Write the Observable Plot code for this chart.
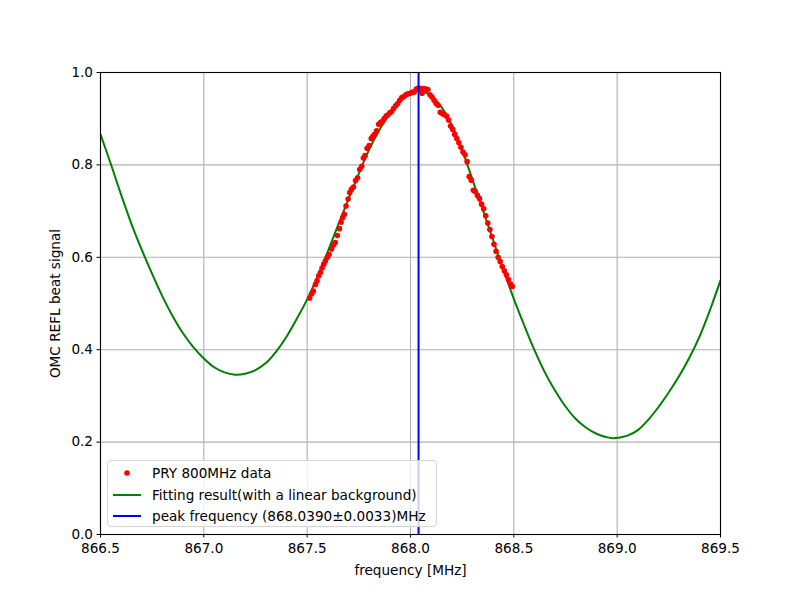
<!DOCTYPE html>
<html>
<head>
<meta charset="utf-8">
<script src="https://cdn.jsdelivr.net/npm/d3@7"></script>
<script src="https://cdn.jsdelivr.net/npm/@observablehq/plot@0.6"></script>
<style>
  html, body { margin: 0; padding: 0; background: #fff; }
  #wrap { position: relative; width: 800px; height: 600px; font-family: "DejaVu Sans", sans-serif; }
  #legend { position: absolute; left: 107px; top: 460px; width: 330px; height: 67px; box-sizing: border-box;
    border: 1px solid #d5d5d5; border-radius: 4px; background: rgba(255,255,255,0.8); font-size: 13.6px; color: #000; }
  .item { position: absolute; left: 0; height: 20px; display: flex; align-items: center; }
  .item svg { width: 44px; height: 20px; }
  .item span { white-space: nowrap; }
</style>
</head>
<body>
<div id="wrap">
  <div id="chart"></div>
  <div id="legend"></div>
</div>
<script>
// Fit curve
const fitFreq = [866.50, 866.55, 866.60, 866.65, 866.70, 866.75, 866.80, 866.85, 866.90, 866.95, 867.00, 867.05, 867.10, 867.15, 867.20, 867.25, 867.30, 867.35, 867.40, 867.45, 867.50, 867.55, 867.60, 867.65, 867.70, 867.75, 867.80, 867.85, 867.90, 867.95, 868.00, 868.04, 868.10, 868.15, 868.20, 868.25, 868.30, 868.35, 868.40, 868.45, 868.50, 868.55, 868.60, 868.65, 868.70, 868.75, 868.80, 868.85, 868.90, 868.95, 868.98, 869.05, 869.10, 869.15, 869.20, 869.25, 869.30, 869.35, 869.40, 869.45, 869.50];
const fitValue = [0.866, 0.802, 0.735, 0.672, 0.616, 0.564, 0.515, 0.472, 0.435, 0.405, 0.381, 0.362, 0.351, 0.346, 0.348, 0.356, 0.371, 0.396, 0.428, 0.467, 0.509, 0.558, 0.613, 0.670, 0.726, 0.781, 0.833, 0.876, 0.911, 0.937, 0.954, 0.960, 0.950, 0.925, 0.886, 0.832, 0.768, 0.703, 0.637, 0.572, 0.510, 0.453, 0.399, 0.351, 0.311, 0.277, 0.250, 0.231, 0.218, 0.2105, 0.2085, 0.214, 0.226, 0.248, 0.276, 0.308, 0.343, 0.383, 0.430, 0.487, 0.550];

const dataFreq = [867.512, 867.522, 867.530, 867.540, 867.548, 867.556, 867.564, 867.572, 867.580, 867.588, 867.598, 867.606, 867.618, 867.628, 867.636, 867.646, 867.656, 867.664, 867.672, 867.680, 867.688, 867.698, 867.706, 867.714, 867.724, 867.734, 867.744, 867.754, 867.764, 867.772, 867.780, 867.790, 867.800, 867.810, 867.818, 867.826, 867.836, 867.846, 867.856, 867.864, 867.872, 867.882, 867.890, 867.900, 867.908, 867.918, 867.928, 867.938, 867.948, 867.958, 867.968, 867.978, 867.988, 867.998, 868.008, 868.018, 868.028, 868.036, 868.046, 868.056, 868.064, 868.074, 868.084, 868.094, 868.104, 868.114, 868.124, 868.134, 868.144, 868.154, 868.164, 868.174, 868.184, 868.194, 868.204, 868.214, 868.224, 868.234, 868.244, 868.254, 868.264, 868.274, 868.284, 868.294, 868.304, 868.314, 868.324, 868.334, 868.344, 868.354, 868.364, 868.374, 868.384, 868.394, 868.404, 868.414, 868.424, 868.434, 868.444, 868.454, 868.464, 868.474, 868.484, 868.492];
const dataValue = [0.512, 0.521, 0.527, 0.541, 0.549, 0.560, 0.567, 0.577, 0.585, 0.592, 0.600, 0.606, 0.618, 0.627, 0.632, 0.647, 0.662, 0.676, 0.686, 0.693, 0.711, 0.726, 0.740, 0.747, 0.752, 0.766, 0.772, 0.790, 0.797, 0.815, 0.820, 0.836, 0.842, 0.857, 0.862, 0.866, 0.874, 0.888, 0.892, 0.894, 0.900, 0.906, 0.908, 0.913, 0.915, 0.922, 0.928, 0.933, 0.940, 0.946, 0.948, 0.952, 0.954, 0.955, 0.957, 0.958, 0.964, 0.966, 0.966, 0.955, 0.965, 0.964, 0.963, 0.952, 0.947, 0.940, 0.933, 0.929, 0.914, 0.911, 0.909, 0.906, 0.897, 0.884, 0.877, 0.866, 0.857, 0.848, 0.838, 0.828, 0.822, 0.807, 0.775, 0.767, 0.745, 0.742, 0.734, 0.727, 0.715, 0.705, 0.690, 0.674, 0.660, 0.645, 0.628, 0.613, 0.600, 0.591, 0.580, 0.571, 0.562, 0.552, 0.542, 0.537];

const peakFreq = [868.039];
const xTicks = [866.5, 867.0, 867.5, 868.0, 868.5, 869.0, 869.5];
const yTicks = [0.0, 0.2, 0.4, 0.6, 0.8, 1.0];
const legendLabels = ["PRY 800MHz data", "Fitting result(with a linear background)", "peak frequency (868.0390\u00b10.0033)MHz"];
const legendColors = ["red", "green", "blue"];

const fit = fitFreq.map((f, i) => ({f, v: fitValue[i]}));
const data = dataFreq.map((f, i) => ({f, v: dataValue[i]}));

const plot = Plot.plot({
  width: 800, height: 600,
  marginLeft: 100, marginRight: 80, marginTop: 72, marginBottom: 66,
  style: {fontFamily: "DejaVu Sans, sans-serif", fontSize: "13.6px", color: "#000", background: "#fff"},
  x: {domain: [866.5, 869.5]},
  y: {domain: [0, 1]},
  marks: [
    Plot.gridX(xTicks, {stroke: "#b0b0b0", strokeOpacity: 1, strokeWidth: 1.1}),
    Plot.gridY(yTicks, {stroke: "#b0b0b0", strokeOpacity: 1, strokeWidth: 1.1}),
    Plot.line(fit, {x: "f", y: "v", stroke: "green", strokeWidth: 2, curve: "catmull-rom", clip: true}),
    Plot.dot(data, {x: "f", y: "v", r: 2.8, fill: "red", stroke: "none"}),
    Plot.ruleX(peakFreq, {stroke: "blue", strokeWidth: 2}),
    Plot.axisX({ticks: xTicks, tickFormat: d3.format(".1f"), tickSize: 3.5, tickPadding: 5, fontSize: 13.6,
      label: "frequency [MHz]", labelAnchor: "center", labelArrow: "none", labelOffset: 40}),
    Plot.axisY({ticks: yTicks, tickFormat: d3.format(".1f"), tickSize: 3.5, tickPadding: 4, fontSize: 13.6,
      label: "OMC REFL beat signal", labelAnchor: "center", labelArrow: "none", labelOffset: 50}),
    Plot.frame({stroke: "#000", strokeWidth: 1.1})
  ]
});
document.getElementById("chart").appendChild(plot);

// legend
const legend = document.getElementById("legend");
legendLabels.forEach((lab, i) => {
  const div = document.createElement("div");
  div.className = "item";
  div.style.top = (2 + i * 21.5) + "px";
  let icon;
  if (i === 0) icon = `<circle cx="19" cy="10" r="2.8" fill="${legendColors[i]}"/>`;
  else icon = `<line x1="5" x2="33" y1="10" y2="10" stroke="${legendColors[i]}" stroke-width="2"/>`;
  div.innerHTML = `<svg viewBox="0 0 44 20">${icon}</svg><span>${lab}</span>`;
  legend.appendChild(div);
});
</script>
</body>
</html>
